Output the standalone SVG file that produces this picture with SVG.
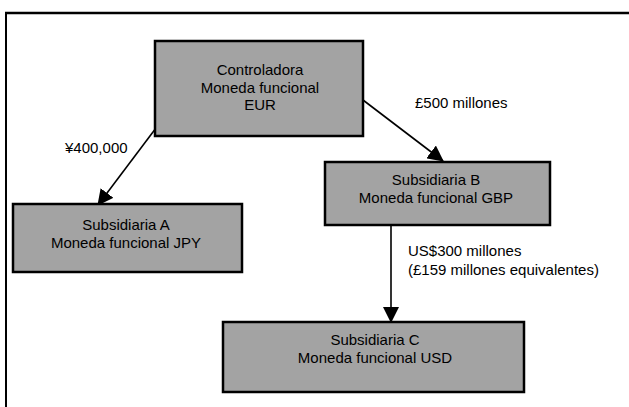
<svg xmlns="http://www.w3.org/2000/svg" width="629" height="407" viewBox="0 0 629 407">
<style>
.box{fill:#a3a3a3;stroke:#000;stroke-width:2.5}
.t{font-family:"Liberation Sans",Arial,sans-serif;font-size:15px;fill:#000}
.m{text-anchor:middle}
.c{stroke:#000;stroke-width:1.6;fill:none}
</style>
<defs>
<marker id="ah" markerUnits="userSpaceOnUse" markerWidth="16" markerHeight="16" viewBox="0 0 16 16" refX="15" refY="8" orient="auto">
<path d="M0,0 L16,8 L0,16 Z" fill="#000"/>
</marker>
</defs>
<rect width="629" height="407" fill="#fff"/>
<g id="frame">
<line x1="5" y1="13" x2="629" y2="13" stroke="#000" stroke-width="2.5"/>
<line x1="6" y1="12" x2="6" y2="407" stroke="#000" stroke-width="2"/>
</g>
<g id="connectors">
<line class="c" x1="156" y1="128" x2="98" y2="205" marker-end="url(#ah)"/>
<line class="c" x1="363" y1="100" x2="443" y2="161" marker-end="url(#ah)"/>
<line class="c" x1="391" y1="226" x2="391" y2="322" marker-end="url(#ah)"/>
<text class="t" x="65" y="153">¥400,000</text>
<text class="t" x="415" y="108">£500 millones</text>
<text class="t" x="408" y="256">US$300 millones</text>
<text class="t" x="408" y="275">(£159 millones equivalentes)</text>
</g>
<g id="controladora">
<rect class="box" x="155" y="41" width="208" height="95"/>
<text class="t m" x="260" y="75">Controladora</text>
<text class="t m" x="260" y="93">Moneda funcional</text>
<text class="t m" x="260" y="110">EUR</text>
</g>
<g id="subsidiaria-a">
<rect class="box" x="13" y="204" width="229" height="68"/>
<text class="t m" x="126" y="230">Subsidiaria A</text>
<text class="t m" x="126" y="248">Moneda funcional JPY</text>
</g>
<g id="subsidiaria-b">
<rect class="box" x="325" y="162" width="225" height="63"/>
<text class="t m" x="436" y="185">Subsidiaria B</text>
<text class="t m" x="436" y="203">Moneda funcional GBP</text>
</g>
<g id="subsidiaria-c">
<rect class="box" x="223" y="322" width="301" height="70"/>
<text class="t m" x="375" y="345">Subsidiaria C</text>
<text class="t m" x="375" y="363">Moneda funcional USD</text>
</g>
</svg>
